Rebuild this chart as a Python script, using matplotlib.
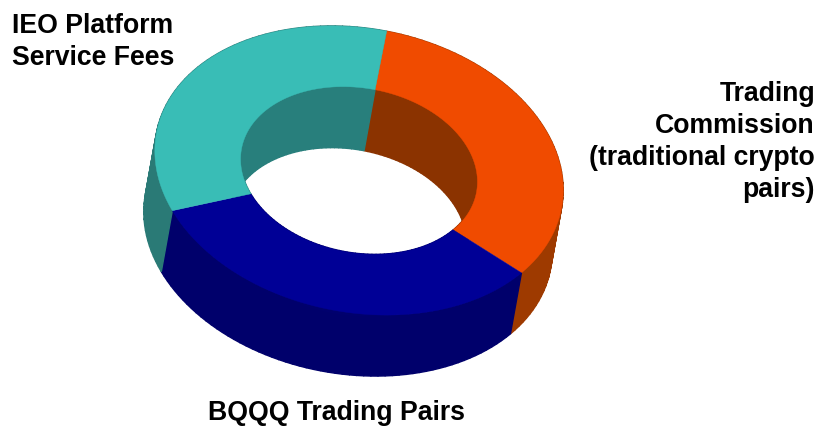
import numpy as np
import matplotlib
matplotlib.use('Agg')
import matplotlib.pyplot as plt

# slices go clockwise from the top
categories = ['Trading Commission', 'BQQQ Trading Pairs', 'IEO Platform Service Fees']
shares = [33.2, 33, 33.8]
top_colors = ['#F04B00', '#000096', '#39BDB6']
inner_colors = ['#8B3300', '#00006E', '#287F7C']
outer_colors = ['#9E3A00', '#00006B', '#2A7A76']

left_label = ['IEO Platform', 'Service Fees']
right_label = ['Trading', 'Commission', '(traditional crypto', 'pairs)']
bottom_label = ['BQQQ Trading Pairs']

# projection of the ring on the picture, in pixels
cx, cy = 359, 170.5
a, b = 206, 142
tilt = np.radians(10.5)
hole = 0.58
depth = np.array([-11, 61])
start = -89.5


def project(t, r):
    x = r * a * np.cos(t)
    y = r * b * np.sin(t)
    return np.column_stack([cx + x * np.cos(tilt) - y * np.sin(tilt),
                            cy + x * np.sin(tilt) + y * np.cos(tilt)])


def draw_wall(ax, t, r, color):
    edge = project(t, r)
    for i in range(len(t) - 1):
        quad = np.array([edge[i], edge[i + 1], edge[i + 1] + depth, edge[i] + depth])
        ax.fill(quad[:, 0], quad[:, 1], color=color, lw=1.0)


fig = plt.figure(figsize=(8.21, 4.26), dpi=100)
ax = fig.add_axes([0, 0, 1, 1])
ax.set_xlim(0, 821)
ax.set_ylim(426, 0)
ax.axis('off')

edges = start + np.concatenate([[0], np.cumsum(shares)]) / sum(shares) * 360
arcs = [np.radians(np.linspace(edges[i], edges[i + 1], 60)) for i in range(len(shares))]

for t, color in zip(arcs, outer_colors):
    draw_wall(ax, t, 1, color)
for t, color in zip(arcs, inner_colors):
    draw_wall(ax, t, hole, color)
for t, color in zip(arcs, top_colors):
    face = np.vstack([project(t, 1), project(t[::-1], hole)])
    ax.fill(face[:, 0], face[:, 1], color=color, lw=0.3)

font = dict(family='Liberation Sans', fontweight='bold', fontsize=19.2, color='black', va='baseline')
for i, line in enumerate(left_label):
    ax.text(12, 33 + i * 32, line, ha='left', **font)
for i, line in enumerate(right_label):
    ax.text(815, 101 + i * 32, line, ha='right', **font)
ax.text(337, 420, bottom_label[0], ha='center', **font)

fig.savefig('out.png', dpi=100)
